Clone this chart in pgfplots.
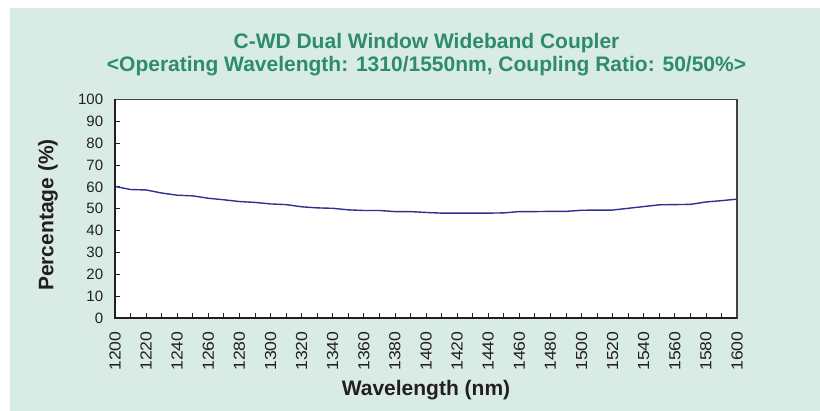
\documentclass[border=0pt]{standalone}
\usepackage{pgfplots}
\pgfplotsset{compat=1.18}
\usepackage{fontspec}
\setmainfont{Liberation Sans}
\newfontfamily\xtickfont{Liberation Sans}[FakeStretch=1.1]
\definecolor{panel}{RGB}{216,236,229}
\definecolor{titlegreen}{RGB}{46,139,110}
\definecolor{navyline}{RGB}{46,49,146}
\definecolor{axisblack}{RGB}{35,31,32}
\begin{document}
\begin{tikzpicture}
\path[use as bounding box] (0,0) rectangle (820bp,411bp);
\fill[panel] (10bp,0) rectangle (820bp,403bp);
\node[anchor=base, font=\fontsize{21bp}{24bp}\selectfont\bfseries, text=titlegreen, inner sep=0] at (426.5bp,362bp) {C-WD Dual Window Wideband Coupler};
\node[anchor=base, font=\fontsize{21bp}{24bp}\selectfont\bfseries, text=titlegreen, inner sep=0] at (426.5bp,339.3bp) {<Operating Wavelength: 1310/1550nm, Coupling Ratio: 50/50\%>};
\begin{axis}[
  at={(115bp,93bp)}, anchor=south west,
  width=622bp, height=218.5bp, scale only axis,
  xmin=1200, xmax=1600, ymin=0, ymax=100,
  xtick={1200,1220,...,1600},
  minor xtick={1210,1230,...,1590},
  ytick={0,10,...,100},
  xtick pos=bottom, ytick pos=left,
  tick align=inside,
  major tick length=5bp, minor tick length=5bp,
  tick style={axisblack, line width=0.8bp},
  axis line style={draw=axisblack!85, line width=1.2bp},
  axis background/.style={fill=white},
  /pgf/number format/assume math mode=true,
  /pgf/number format/1000 sep={},
  yticklabel style={font=\fontsize{15bp}{18bp}\selectfont, text=axisblack},
  xticklabel style={font=\xtickfont\fontsize{16bp}{18bp}\selectfont, text=axisblack, rotate=90, anchor=east},
  yticklabel shift=8.3bp,
  xticklabel shift=10bp,
  xlabel={Wavelength (nm)},
  ylabel={Percentage (\%)},
  xlabel style={font=\fontsize{21bp}{24bp}\selectfont\bfseries, text=axisblack, at={(axis description cs:0.5,-0.3524)}, anchor=base},
  ylabel style={font=\fontsize{21bp}{24bp}\selectfont\bfseries, text=axisblack, at={(axis description cs:-0.1077,0.4714)}, anchor=center},
  clip=false,
]
\addplot[navyline, line width=1.4bp, no marks] coordinates {
(1200,60.2) (1210,58.8) (1220,58.6) (1230,57.2) (1240,56.2) (1250,55.9)
(1260,54.8) (1270,54.1) (1280,53.3) (1290,52.9) (1300,52.2) (1310,51.9)
(1320,50.9) (1330,50.4) (1340,50.2) (1350,49.5) (1360,49.2) (1370,49.2)
(1380,48.7) (1390,48.7) (1400,48.3) (1410,48.0) (1420,48.0) (1430,48.0)
(1440,48.0) (1450,48.1) (1460,48.7) (1470,48.7) (1480,48.8) (1490,48.8)
(1500,49.3) (1510,49.4) (1520,49.4) (1530,50.2) (1540,51.0) (1550,51.8)
(1560,51.9) (1570,52.0) (1580,53.1) (1590,53.7) (1600,54.4)
};
\draw[axisblack, line width=2bp] (rel axis cs:0,1) -- (rel axis cs:0,0) -- (rel axis cs:1,0);
\end{axis}
\end{tikzpicture}
\end{document}
